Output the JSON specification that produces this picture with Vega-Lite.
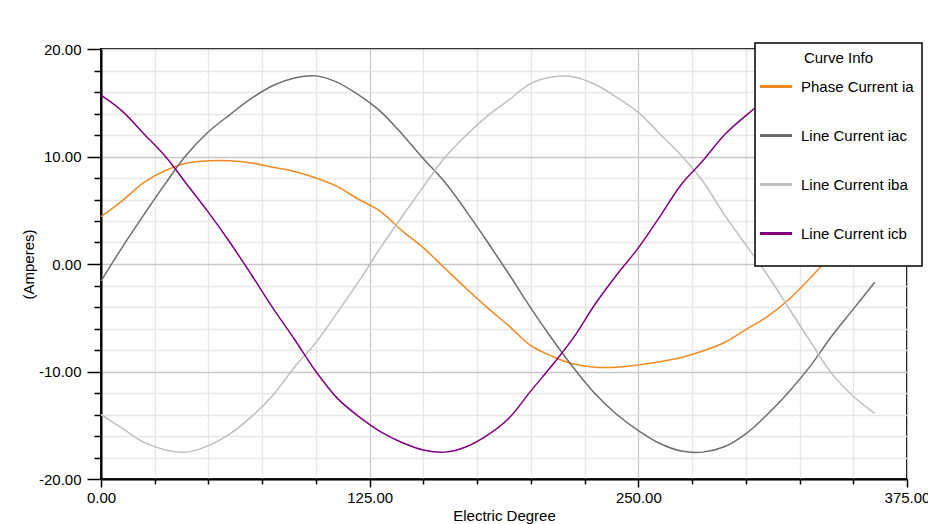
{
  "$schema": "https://vega.github.io/schema/vega-lite/v6.json",
  "width": 806,
  "height": 430,
  "autosize": {"type": "none"},
  "padding": {"left": 101, "top": 49, "right": 21, "bottom": 45},
  "background": "white",
  "config": {
    "view": {"stroke": "black", "strokeWidth": 2},
    "font": "Liberation Sans",
    "axis": {
      "labelFont": "Liberation Sans",
      "titleFont": "Liberation Sans",
      "labelColor": "black",
      "titleColor": "black",
      "titleFontWeight": "normal",
      "domainColor": "black",
      "domainWidth": 2,
      "tickColor": "black",
      "tickWidth": 1.5,
      "gridWidth": 1.3
    },
    "legend": {
      "labelFont": "Liberation Sans",
      "titleFont": "Liberation Sans"
    }
  },
  "data": {
    "values": [
      {"d":0,"v":4.4,"s":"Phase Current ia"},{"d":10,"v":5.9,"s":"Phase Current ia"},{"d":20,"v":7.6,"s":"Phase Current ia"},{"d":30,"v":8.7,"s":"Phase Current ia"},{"d":40,"v":9.4,"s":"Phase Current ia"},{"d":50,"v":9.6,"s":"Phase Current ia"},{"d":60,"v":9.6,"s":"Phase Current ia"},{"d":70,"v":9.4,"s":"Phase Current ia"},{"d":80,"v":9.0,"s":"Phase Current ia"},{"d":90,"v":8.6,"s":"Phase Current ia"},{"d":100,"v":8.0,"s":"Phase Current ia"},{"d":110,"v":7.2,"s":"Phase Current ia"},{"d":120,"v":6.0,"s":"Phase Current ia"},{"d":130,"v":4.9,"s":"Phase Current ia"},{"d":140,"v":3.1,"s":"Phase Current ia"},{"d":150,"v":1.5,"s":"Phase Current ia"},{"d":160,"v":-0.4,"s":"Phase Current ia"},{"d":170,"v":-2.3,"s":"Phase Current ia"},{"d":180,"v":-4.1,"s":"Phase Current ia"},{"d":190,"v":-5.8,"s":"Phase Current ia"},{"d":200,"v":-7.6,"s":"Phase Current ia"},{"d":210,"v":-8.6,"s":"Phase Current ia"},{"d":220,"v":-9.3,"s":"Phase Current ia"},{"d":230,"v":-9.6,"s":"Phase Current ia"},{"d":240,"v":-9.6,"s":"Phase Current ia"},{"d":250,"v":-9.4,"s":"Phase Current ia"},{"d":260,"v":-9.1,"s":"Phase Current ia"},{"d":270,"v":-8.7,"s":"Phase Current ia"},{"d":280,"v":-8.1,"s":"Phase Current ia"},{"d":290,"v":-7.3,"s":"Phase Current ia"},{"d":300,"v":-6.1,"s":"Phase Current ia"},{"d":310,"v":-4.9,"s":"Phase Current ia"},{"d":320,"v":-3.3,"s":"Phase Current ia"},{"d":330,"v":-1.3,"s":"Phase Current ia"},{"d":340,"v":0.8,"s":"Phase Current ia"},{"d":350,"v":2.6,"s":"Phase Current ia"},{"d":360,"v":4.4,"s":"Phase Current ia"},

      {"d":0,"v":-1.6,"s":"Line Current iac"},{"d":10,"v":1.6,"s":"Line Current iac"},{"d":20,"v":4.6,"s":"Line Current iac"},{"d":30,"v":7.5,"s":"Line Current iac"},{"d":40,"v":10.2,"s":"Line Current iac"},{"d":50,"v":12.3,"s":"Line Current iac"},{"d":60,"v":13.9,"s":"Line Current iac"},{"d":70,"v":15.4,"s":"Line Current iac"},{"d":80,"v":16.6,"s":"Line Current iac"},{"d":90,"v":17.3,"s":"Line Current iac"},{"d":100,"v":17.5,"s":"Line Current iac"},{"d":110,"v":16.9,"s":"Line Current iac"},{"d":120,"v":15.7,"s":"Line Current iac"},{"d":130,"v":14.2,"s":"Line Current iac"},{"d":140,"v":12.1,"s":"Line Current iac"},{"d":150,"v":9.8,"s":"Line Current iac"},{"d":160,"v":7.6,"s":"Line Current iac"},{"d":170,"v":4.9,"s":"Line Current iac"},{"d":180,"v":2.0,"s":"Line Current iac"},{"d":190,"v":-1.0,"s":"Line Current iac"},{"d":200,"v":-4.1,"s":"Line Current iac"},{"d":210,"v":-7.0,"s":"Line Current iac"},{"d":220,"v":-9.7,"s":"Line Current iac"},{"d":230,"v":-12.1,"s":"Line Current iac"},{"d":240,"v":-14.0,"s":"Line Current iac"},{"d":250,"v":-15.5,"s":"Line Current iac"},{"d":260,"v":-16.7,"s":"Line Current iac"},{"d":270,"v":-17.4,"s":"Line Current iac"},{"d":280,"v":-17.5,"s":"Line Current iac"},{"d":290,"v":-17.0,"s":"Line Current iac"},{"d":300,"v":-15.8,"s":"Line Current iac"},{"d":310,"v":-14.0,"s":"Line Current iac"},{"d":320,"v":-11.9,"s":"Line Current iac"},{"d":330,"v":-9.5,"s":"Line Current iac"},{"d":340,"v":-6.7,"s":"Line Current iac"},{"d":350,"v":-4.2,"s":"Line Current iac"},{"d":360,"v":-1.7,"s":"Line Current iac"},

      {"d":0,"v":-14.0,"s":"Line Current iba"},{"d":10,"v":-15.3,"s":"Line Current iba"},{"d":20,"v":-16.6,"s":"Line Current iba"},{"d":30,"v":-17.3,"s":"Line Current iba"},{"d":40,"v":-17.5,"s":"Line Current iba"},{"d":50,"v":-16.9,"s":"Line Current iba"},{"d":60,"v":-15.8,"s":"Line Current iba"},{"d":70,"v":-14.2,"s":"Line Current iba"},{"d":80,"v":-12.2,"s":"Line Current iba"},{"d":90,"v":-9.6,"s":"Line Current iba"},{"d":100,"v":-7.3,"s":"Line Current iba"},{"d":110,"v":-4.5,"s":"Line Current iba"},{"d":120,"v":-1.6,"s":"Line Current iba"},{"d":130,"v":1.5,"s":"Line Current iba"},{"d":140,"v":4.4,"s":"Line Current iba"},{"d":150,"v":7.2,"s":"Line Current iba"},{"d":160,"v":9.9,"s":"Line Current iba"},{"d":170,"v":12.0,"s":"Line Current iba"},{"d":180,"v":13.8,"s":"Line Current iba"},{"d":190,"v":15.3,"s":"Line Current iba"},{"d":200,"v":16.8,"s":"Line Current iba"},{"d":210,"v":17.4,"s":"Line Current iba"},{"d":220,"v":17.4,"s":"Line Current iba"},{"d":230,"v":16.7,"s":"Line Current iba"},{"d":240,"v":15.5,"s":"Line Current iba"},{"d":250,"v":14.1,"s":"Line Current iba"},{"d":260,"v":12.1,"s":"Line Current iba"},{"d":270,"v":10.1,"s":"Line Current iba"},{"d":280,"v":7.7,"s":"Line Current iba"},{"d":290,"v":4.6,"s":"Line Current iba"},{"d":300,"v":1.8,"s":"Line Current iba"},{"d":310,"v":-1.0,"s":"Line Current iba"},{"d":320,"v":-4.1,"s":"Line Current iba"},{"d":330,"v":-7.2,"s":"Line Current iba"},{"d":340,"v":-10.2,"s":"Line Current iba"},{"d":350,"v":-12.3,"s":"Line Current iba"},{"d":360,"v":-13.9,"s":"Line Current iba"},

      {"d":0,"v":15.7,"s":"Line Current icb"},{"d":10,"v":14.2,"s":"Line Current icb"},{"d":20,"v":12.1,"s":"Line Current icb"},{"d":30,"v":10.0,"s":"Line Current icb"},{"d":40,"v":7.4,"s":"Line Current icb"},{"d":50,"v":4.8,"s":"Line Current icb"},{"d":60,"v":2.0,"s":"Line Current icb"},{"d":70,"v":-1.0,"s":"Line Current icb"},{"d":80,"v":-4.1,"s":"Line Current icb"},{"d":90,"v":-7.0,"s":"Line Current icb"},{"d":100,"v":-10.0,"s":"Line Current icb"},{"d":110,"v":-12.5,"s":"Line Current icb"},{"d":120,"v":-14.2,"s":"Line Current icb"},{"d":130,"v":-15.6,"s":"Line Current icb"},{"d":140,"v":-16.6,"s":"Line Current icb"},{"d":150,"v":-17.3,"s":"Line Current icb"},{"d":160,"v":-17.5,"s":"Line Current icb"},{"d":170,"v":-17.0,"s":"Line Current icb"},{"d":180,"v":-15.9,"s":"Line Current icb"},{"d":190,"v":-14.3,"s":"Line Current icb"},{"d":200,"v":-11.8,"s":"Line Current icb"},{"d":210,"v":-9.4,"s":"Line Current icb"},{"d":220,"v":-6.8,"s":"Line Current icb"},{"d":230,"v":-3.7,"s":"Line Current icb"},{"d":240,"v":-1.0,"s":"Line Current icb"},{"d":250,"v":1.5,"s":"Line Current icb"},{"d":260,"v":4.4,"s":"Line Current icb"},{"d":270,"v":7.4,"s":"Line Current icb"},{"d":280,"v":9.6,"s":"Line Current icb"},{"d":290,"v":12.0,"s":"Line Current icb"},{"d":300,"v":13.8,"s":"Line Current icb"},{"d":310,"v":15.4,"s":"Line Current icb"},{"d":320,"v":16.6,"s":"Line Current icb"},{"d":330,"v":17.3,"s":"Line Current icb"},{"d":340,"v":17.4,"s":"Line Current icb"},{"d":350,"v":16.9,"s":"Line Current icb"},{"d":360,"v":15.7,"s":"Line Current icb"}
    ]
  },
  "mark": {"type": "line", "strokeWidth": 1.5, "interpolate": "catmull-rom"},
  "encoding": {
    "x": {
      "field": "d", "type": "quantitative",
      "scale": {"domain": [0, 375], "nice": false, "zero": false},
      "axis": {
        "title": "Electric Degree",
        "titleFontSize": 15,
        "titleY": 36,
        "titleBaseline": "middle",
        "values": [0,25,50,75,100,125,150,175,200,225,250,275,300,325,350,375],
        "labelExpr": "datum.value % 125 === 0 ? format(datum.value, '.2f') : ''",
        "labelFontSize": 15,
        "labelFlush": false,
        "labelOverlap": false,
        "labelBound": false,
        "labelPadding": 3,
        "grid": true,
        "gridColor": {"condition": {"test": "datum.value % 125 === 0", "value": "#c8c8c8"}, "value": "#e6e6e6"},
        "tickSize": {"condition": {"test": "datum.value % 125 === 0", "value": 8}, "value": 5}
      }
    },
    "y": {
      "field": "v", "type": "quantitative",
      "scale": {"domain": [-20, 20], "nice": false, "zero": false},
      "axis": {
        "title": "(Amperes)",
        "titleFontSize": 15,
        "titleX": -73,
        "titleBaseline": "middle",
        "values": [-20,-18,-16,-14,-12,-10,-8,-6,-4,-2,0,2,4,6,8,10,12,14,16,18,20],
        "labelExpr": "datum.value % 10 === 0 ? replace(format(datum.value, '.2f'), '\u2212', '-') : ''",
        "labelFontSize": 15,
        "labelFlush": false,
        "labelOverlap": false,
        "labelBound": false,
        "labelPadding": 6,
        "grid": true,
        "gridColor": {"condition": {"test": "datum.value % 10 === 0", "value": "#c8c8c8"}, "value": "#e6e6e6"},
        "tickSize": {"condition": {"test": "datum.value % 10 === 0", "value": 14}, "value": 7}
      }
    },
    "color": {
      "field": "s", "type": "nominal",
      "scale": {
        "domain": ["Phase Current ia", "Line Current iac", "Line Current iba", "Line Current icb"],
        "range": ["#f28a22", "#6e6e6e", "#bfbfbf", "#800080"]
      },
      "legend": {
        "title": "Curve Info",
        "orient": "none",
        "legendX": 654,
        "legendY": -6,
        "titleFontSize": 15,
        "titleFontWeight": "normal",
        "titleColor": "black",
        "titleAnchor": "middle",
        "titlePadding": -3,
        "labelFontSize": 15,
        "labelColor": "black",
        "labelLimit": 300,
        "labelOffset": -9.5,
        "labelExpr": "[datum.label + '\u00a0', '']",
        "labelLineHeight": 20,
        "symbolType": "M -1.178 0 L 0.244 0",
        "symbolSize": 2025,
        "symbolStrokeWidth": 3,
        "rowPadding": -2,
        "padding": 7.5,
        "strokeColor": "black",
        "fillColor": "white",
        "encode": {"legend": {"update": {"strokeWidth": {"value": 1.5}}}}
      }
    }
  }
}
